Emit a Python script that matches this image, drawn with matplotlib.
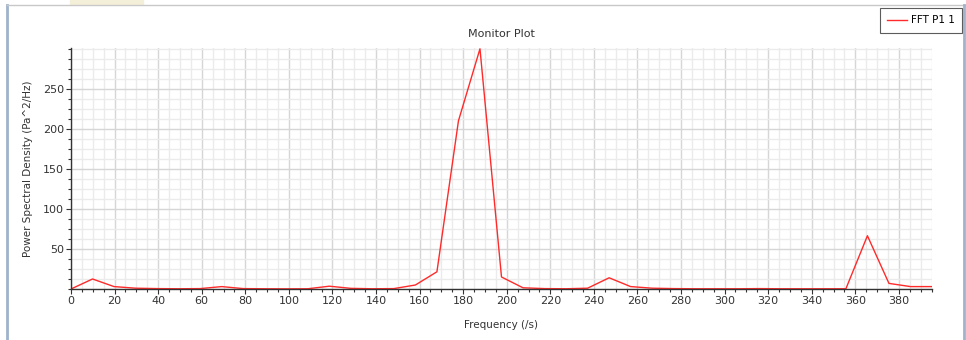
import numpy as np
import matplotlib.pyplot as plt
from matplotlib.ticker import MultipleLocator, FixedLocator
from matplotlib.patches import Rectangle
from matplotlib.lines import Line2D

# FFT bins (Hz) and PSD values
freq = [0.0, 9.88, 19.76, 29.64, 39.52, 49.4, 59.28, 69.16, 79.04, 88.92,
        98.8, 108.68, 118.56, 128.44, 138.32, 148.2, 158.08, 167.96, 177.84, 187.72,
        197.6, 207.48, 217.36, 227.24, 237.12, 247.0, 256.88, 266.76, 276.64, 286.52,
        296.4, 306.28, 316.16, 326.04, 335.92, 345.8, 355.68, 365.56, 375.44, 385.32,
        395.2]
psd = [0.0, 12.5, 3.0, 1.0, 0.5, 0.3, 0.5, 3.0, 0.5, 0.3,
       0.2, 0.3, 3.5, 0.8, 0.3, 0.5, 5.0, 21.5, 210.0, 300.0,
       15.0, 1.5, 0.5, 0.3, 1.0, 14.0, 3.0, 1.0, 0.5, 0.3,
       0.3, 0.3, 0.5, 0.3, 0.3, 0.3, 0.3, 66.5, 7.0, 3.0,
       3.0]
y_ticks = [50, 100, 150, 200, 250]

fig = plt.figure(figsize=(9.66, 3.4), dpi=100)
ax = fig.add_axes([71 / 966, 51 / 340, 861 / 966, 241 / 340])

ax.plot(freq, psd, color='#ff2a2a', lw=1.0, label='FFT P1 1')

ax.set_xlim(0, 395.2)
ax.set_ylim(0, 301)
ax.xaxis.set_major_locator(MultipleLocator(20))
ax.xaxis.set_minor_locator(MultipleLocator(5))
ax.yaxis.set_major_locator(FixedLocator(y_ticks))
ax.yaxis.set_minor_locator(MultipleLocator(12.5))

ax.grid(which='major', color='#d6d6d6', lw=1.0)
ax.grid(which='minor', color='#ebebeb', lw=1.0)
ax.set_axisbelow(True)

for s in ['top', 'right']:
    ax.spines[s].set_visible(False)
for s in ['left', 'bottom']:
    ax.spines[s].set_color('#333333')
    ax.spines[s].set_linewidth(1.0)

ax.tick_params(which='major', length=3.5, width=0.8, color='#333333',
               labelsize=8, labelcolor='#333333', pad=1.5)
ax.tick_params(which='minor', length=2.5, width=0.8, color='#333333')

ax.set_xlabel('Frequency (/s)', fontsize=7.5, color='#333333', labelpad=10)
ax.set_ylabel('Power Spectral Density (Pa^2/Hz)', fontsize=7.5, color='#333333', labelpad=7)
ax.set_title('Monitor Plot', fontsize=8, color='#333333', pad=8)

# legend box in the upper right corner
leg = fig.legend(handles=[Line2D([], [], color='#ff2a2a', lw=1.0)], labels=['FFT P1 1'],
                 loc='upper right', bbox_to_anchor=(962 / 966, 332 / 340),
                 fontsize=7.5, frameon=True, fancybox=False, borderpad=0.7,
                 handlelength=1.9, handletextpad=0.35, borderaxespad=0)
leg.get_frame().set_edgecolor('#333333')
leg.get_frame().set_linewidth(0.8)

# window frame
fig.add_artist(Line2D([7 / 966, 7 / 966], [0, 335 / 340], color='#9fb3cc', lw=2,
                      transform=fig.transFigure))
fig.add_artist(Line2D([7 / 966, 1], [335 / 340, 335 / 340], color='#c8c8c8', lw=1,
                      transform=fig.transFigure))
fig.add_artist(Line2D([964 / 966, 964 / 966], [0, 335 / 340], color='#9fb3cc', lw=2,
                      transform=fig.transFigure))
fig.add_artist(Rectangle((70 / 966, 336 / 340), 73 / 966, 4 / 340, color='#f4efd8',
                         transform=fig.transFigure))

fig.savefig('out.png', dpi=100)
